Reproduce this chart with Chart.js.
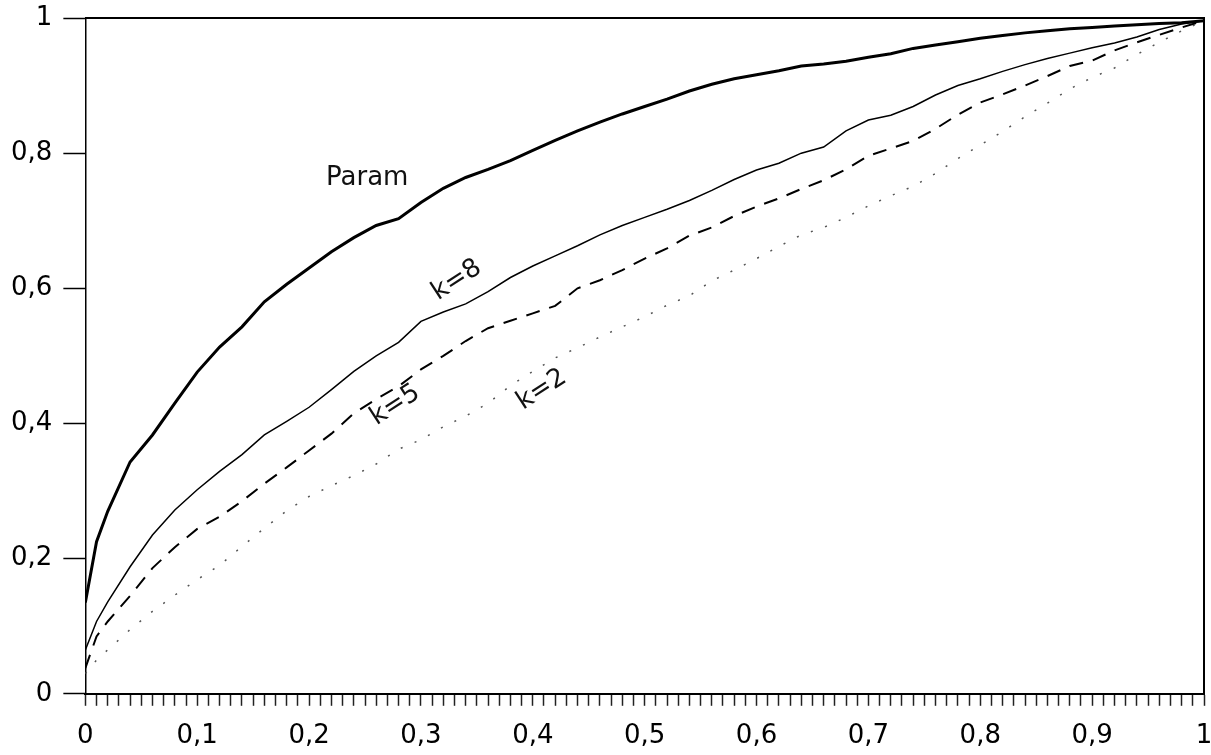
<!DOCTYPE html>
<html>
<head>
<meta charset="utf-8">
<script src="https://cdn.jsdelivr.net/npm/chart.js@4/dist/chart.umd.min.js"></script>
<style>
  html, body { margin: 0; padding: 0; background: #fff; }
  #wrap { width: 1211px; height: 755px; }
</style>
</head>
<body>
<div id="wrap"><canvas id="chart"></canvas></div>
<script>
// x positions (shared by all curves)
const xs = [0, 0.01, 0.02, 0.04, 0.06, 0.08, 0.10, 0.12, 0.14, 0.16, 0.18,
  0.20, 0.22, 0.24, 0.26, 0.28, 0.30, 0.32, 0.34, 0.36, 0.38,
  0.40, 0.42, 0.44, 0.46, 0.48, 0.50, 0.52, 0.54, 0.56, 0.58,
  0.60, 0.62, 0.64, 0.66, 0.68, 0.70, 0.72, 0.74, 0.76, 0.78,
  0.80, 0.82, 0.84, 0.86, 0.88, 0.90, 0.92, 0.94, 0.96, 0.98, 1.00];

const param = [0.135, 0.225, 0.270, 0.343, 0.383, 0.430, 0.476, 0.513, 0.543, 0.580, 0.606,
  0.630, 0.654, 0.675, 0.693, 0.703, 0.727, 0.748, 0.764, 0.776, 0.789,
  0.804, 0.819, 0.833, 0.846, 0.858, 0.869, 0.880, 0.892, 0.902, 0.910,
  0.916, 0.922, 0.929, 0.932, 0.936, 0.942, 0.947, 0.955, 0.960, 0.965,
  0.970, 0.974, 0.978, 0.981, 0.984, 0.986, 0.988, 0.990, 0.992, 0.993, 0.996];

const k8 = [0.065, 0.107, 0.136, 0.188, 0.235, 0.272, 0.302, 0.329, 0.354, 0.383, 0.403,
  0.424, 0.450, 0.477, 0.500, 0.520, 0.551, 0.565, 0.577, 0.595, 0.616,
  0.633, 0.648, 0.663, 0.679, 0.693, 0.705, 0.717, 0.730, 0.745, 0.761,
  0.775, 0.785, 0.800, 0.809, 0.833, 0.849, 0.856, 0.869, 0.886, 0.900,
  0.910, 0.921, 0.931, 0.940, 0.948, 0.956, 0.963, 0.972, 0.983, 0.991, 0.996];

const k5 = [0.038, 0.085, 0.107, 0.145, 0.186, 0.217, 0.244, 0.262, 0.285, 0.311, 0.335,
  0.360, 0.385, 0.415, 0.436, 0.455, 0.480, 0.500, 0.522, 0.541, 0.552,
  0.563, 0.574, 0.600, 0.612, 0.627, 0.644, 0.659, 0.678, 0.690, 0.707,
  0.721, 0.733, 0.747, 0.760, 0.776, 0.796, 0.807, 0.818, 0.836, 0.857,
  0.875, 0.887, 0.900, 0.914, 0.929, 0.937, 0.952, 0.964, 0.975, 0.986, 0.996];

const k2 = [0.030, 0.050, 0.065, 0.095, 0.122, 0.146, 0.169, 0.190, 0.218, 0.245, 0.271,
  0.292, 0.308, 0.323, 0.340, 0.362, 0.376, 0.395, 0.411, 0.430, 0.456,
  0.477, 0.497, 0.512, 0.528, 0.543, 0.558, 0.575, 0.589, 0.611, 0.627,
  0.644, 0.662, 0.679, 0.690, 0.705, 0.722, 0.737, 0.751, 0.770, 0.792,
  0.812, 0.832, 0.854, 0.874, 0.895, 0.912, 0.926, 0.946, 0.964, 0.981, 0.996];

// text labels on the curves, placed in data units
const curveLabels = [
  { text: 'Param', x: 0.252, y: 0.763, angle: 0 },
  { text: 'k=8', x: 0.332, y: 0.612, angle: -33 },
  { text: 'k=5', x: 0.277, y: 0.427, angle: -33 },
  { text: 'k=2', x: 0.408, y: 0.450, angle: -33 }
];

const FONT = '"DejaVu Sans", sans-serif';

function pts(ys) {
  return xs.map((x, i) => ({ x: x, y: ys[i] }));
}

function commaNum(v) {
  const r = Math.round(v * 10) / 10;
  if (r === 0) return '0';
  if (r === 1) return '1';
  return r.toFixed(1).replace('.', ',');
}

// frame on top and right + the curve labels
const extras = {
  id: 'extras',
  afterDatasetsDraw(chart) {
    const { ctx, chartArea: a, scales } = chart;
    ctx.save();
    ctx.strokeStyle = '#000';
    ctx.lineWidth = 2;
    ctx.beginPath();
    ctx.moveTo(a.left, a.top);
    ctx.lineTo(a.right, a.top);
    ctx.lineTo(a.right, a.bottom);
    ctx.stroke();

    ctx.fillStyle = '#111';
    ctx.font = '26px ' + FONT;
    ctx.textAlign = 'center';
    ctx.textBaseline = 'middle';
    curveLabels.forEach(l => {
      const px = scales.x.getPixelForValue(l.x);
      const py = scales.y.getPixelForValue(l.y);
      ctx.save();
      ctx.translate(px, py);
      ctx.rotate(l.angle * Math.PI / 180);
      ctx.fillText(l.text, 0, 0);
      ctx.restore();
    });
    ctx.restore();
  }
};

new Chart(document.getElementById('chart'), {
  type: 'line',
  data: {
    datasets: [
      {
        label: 'Param',
        data: pts(param),
        borderColor: '#000',
        borderWidth: 3,
        pointRadius: 0,
        tension: 0
      },
      {
        label: 'k=8',
        data: pts(k8),
        borderColor: '#000',
        borderWidth: 1.5,
        pointRadius: 0,
        tension: 0
      },
      {
        label: 'k=5',
        data: pts(k5),
        borderColor: '#000',
        borderWidth: 2,
        borderDash: [14, 10],
        pointRadius: 0,
        tension: 0
      },
      {
        label: 'k=2',
        data: pts(k2),
        borderColor: '#555',
        borderWidth: 1.5,
        borderDash: [2, 13],
        pointRadius: 0,
        tension: 0
      }
    ]
  },
  options: {
    responsive: true,
    maintainAspectRatio: false,
    animation: false,
    layout: { padding: { left: 0, right: 7, top: 18, bottom: -12 } },
    plugins: {
      legend: { display: false },
      tooltip: { enabled: false }
    },
    scales: {
      x: {
        type: 'linear',
        min: 0,
        max: 1,
        afterFit: s => { s.paddingLeft = 0; s.paddingRight = 0; },
        border: { display: true, color: '#000', width: 2 },
        grid: {
          drawOnChartArea: false,
          drawTicks: true,
          tickLength: 12,
          tickColor: '#222',
          tickWidth: 1.5
        },
        ticks: {
          stepSize: 0.01,
          autoSkip: false,
          maxRotation: 0,
          padding: 15,
          color: '#000',
          font: { family: FONT, size: 26 },
          callback: v => (Math.round(v * 100) % 10 === 0 ? commaNum(v) : '')
        }
      },
      y: {
        type: 'linear',
        min: 0,
        max: 1,
        afterFit: s => { s.paddingTop = 0; s.paddingBottom = 0; },
        border: { display: true, color: '#000', width: 1.5 },
        grid: {
          drawOnChartArea: false,
          drawTicks: true,
          tickLength: 22,
          tickColor: '#000',
          tickWidth: 1.5
        },
        ticks: {
          stepSize: 0.2,
          padding: 11,
          color: '#000',
          font: { family: FONT, size: 26 },
          callback: v => commaNum(v)
        }
      }
    }
  },
  plugins: [extras]
});
</script>
</body>
</html>
